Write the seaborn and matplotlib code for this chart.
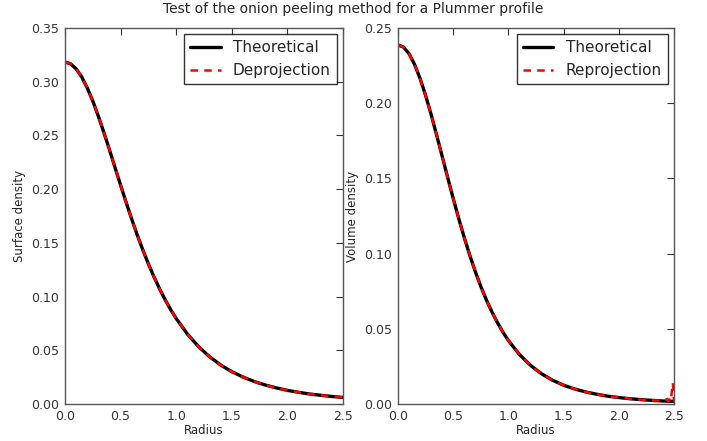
import numpy as np
import pandas as pd
import matplotlib
matplotlib.use("Agg")
import matplotlib.pyplot as plt
import seaborn as sns

radius = [0.0, 0.05, 0.1, 0.15, 0.2, 0.25, 0.3, 0.35, 0.4, 0.45, 0.5, 0.55,
          0.6, 0.65, 0.7, 0.75, 0.8, 0.85, 0.9, 0.95, 1.0, 1.1, 1.2,
          1.3, 1.4, 1.5, 1.6, 1.7, 1.8, 1.9, 2.0, 2.1, 2.2, 2.3, 2.4, 2.5]
surface_theo = [0.3183, 0.3167, 0.3120, 0.3045, 0.2943, 0.2820, 0.2679, 0.2526,
                0.2366, 0.2201, 0.2037, 0.1876, 0.1721, 0.1573, 0.1434, 0.1304,
                0.1184, 0.1073, 0.0972, 0.0879, 0.0796, 0.0652, 0.0535, 0.0440,
                0.0363, 0.0301, 0.0251, 0.0210, 0.0177, 0.0150, 0.0127, 0.0109,
                0.0093, 0.0081, 0.0070, 0.0061]
surface_deproj = surface_theo
volume_theo = [0.2387, 0.2373, 0.2329, 0.2258, 0.2164, 0.2052, 0.1925, 0.1788,
               0.1647, 0.1506, 0.1367, 0.1233, 0.1107, 0.0989, 0.0881, 0.0782,
               0.0693, 0.0613, 0.0542, 0.0478, 0.0422, 0.0329, 0.0257, 0.0201,
               0.0158, 0.0125, 0.0100, 0.0080, 0.0065, 0.0052, 0.0043, 0.0035,
               0.0029, 0.0024, 0.0020, 0.0017]
reproj_radius = radius[:-1] + [2.42, 2.44, 2.45, 2.46, 2.47, 2.48, 2.49, 2.5]
volume_reproj = volume_theo[:-2] + [0.0022, 0.0026, 0.0034, 0.0019, 0.0030,
                                    0.0018, 0.0080, 0.0140, 0.0017]

sns.set_style("white")
plt.rcParams.update({
    "font.family": ["DejaVu Sans"],
    "xtick.direction": "in", "ytick.direction": "in",
    "xtick.top": True, "ytick.right": True,
    "xtick.major.size": 5, "ytick.major.size": 5,
    "xtick.labelsize": 9, "ytick.labelsize": 9,
    "axes.edgecolor": "black", "axes.linewidth": 1.0,
    "xtick.color": "#333333", "ytick.color": "#333333",
})

fig = plt.figure(figsize=(7.07, 4.41), dpi=100)
ax1 = fig.add_axes([65/707, 1-404/441, (343-65)/707, (404-28)/441])
ax2 = fig.add_axes([398/707, 1-404/441, (674-398)/707, (404-28)/441])

df1 = pd.DataFrame({"r": radius, "t": surface_theo, "d": surface_deproj})
df2 = pd.DataFrame({"r": radius, "t": volume_theo})
df3 = pd.DataFrame({"r": reproj_radius, "d": volume_reproj})

sns.lineplot(data=df1, x="r", y="t", ax=ax1, color="black", lw=2.4, label="Theoretical")
sns.lineplot(data=df1, x="r", y="d", ax=ax1, color="red", lw=1.8, dashes=[(3, 2.5)], style=[0]*len(df1), legend=False)
sns.lineplot(data=df2, x="r", y="t", ax=ax2, color="black", lw=2.4, label="Theoretical")
sns.lineplot(data=df3, x="r", y="d", ax=ax2, color="red", lw=1.8, dashes=[(3, 2.5)], style=[0]*len(df3), legend=False)

from matplotlib.lines import Line2D
for ax, ymax, ylabel, lab in [(ax1, 0.35, "Surface density", "Deprojection"),
                              (ax2, 0.25, "Volume density", "Reprojection")]:
    ax.set_xlim(0, 2.5)
    ax.set_ylim(0, ymax)
    ax.set_xticks(np.arange(0, 2.51, 0.5))
    ax.set_yticks(np.arange(0, ymax + 1e-9, 0.05))
    ax.xaxis.set_major_formatter(matplotlib.ticker.FormatStrFormatter("%.1f"))
    ax.yaxis.set_major_formatter(matplotlib.ticker.FormatStrFormatter("%.2f"))
    ax.set_xlabel("Radius", fontsize=8.5, labelpad=1)
    ax.set_ylabel(ylabel, fontsize=8.5)
    handles = [Line2D([], [], color="black", lw=2.4),
               Line2D([], [], color="red", lw=1.8, dashes=(3, 2.5))]
    leg = ax.legend(handles, ["Theoretical", lab], loc="upper right", fontsize=11,
                    fancybox=False, frameon=True, edgecolor="black",
                    handlelength=2.0, borderaxespad=0.4)
    leg.get_frame().set_linewidth(1.0)
    ax.tick_params(length=5, width=0.8, pad=4)
    for s in ax.spines.values():
        s.set_color("#555555")

fig.suptitle("Test of the onion peeling method for a Plummer profile", fontsize=10, y=0.995)
fig.savefig("out.png", dpi=100)
